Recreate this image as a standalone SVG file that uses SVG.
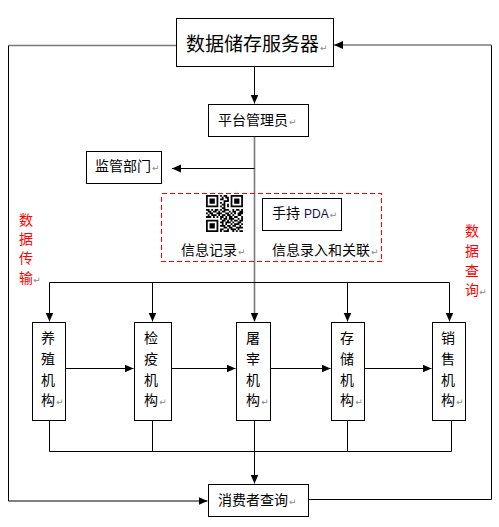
<svg xmlns="http://www.w3.org/2000/svg" width="499" height="527" viewBox="0 0 499 527">
<style>
.box{fill:#fff;stroke:#000;stroke-width:1}
.ln{fill:none;stroke:#000;stroke-width:1}
.gl{fill:none;stroke:#7a7a7a;stroke-width:1.6}
text{font-family:"Noto Sans CJK SC","Noto Sans",sans-serif;fill:#000}
.t14{font-size:14px}
.red{fill:#ff0000;font-size:14px}
.pm{fill:#8a8a8a;font-size:9px;font-family:"DejaVu Sans",sans-serif}
.dash{fill:none;stroke:#ff0000;stroke-width:1;stroke-dasharray:5,3;shape-rendering:crispEdges}
</style>
<defs>
<marker id="ah" markerUnits="userSpaceOnUse" markerWidth="10" markerHeight="9" refX="9" refY="4" orient="auto">
<path d="M0,0 L9,4 L0,8 z" fill="#000"/>
</marker>
</defs>
<g id="connectors">
<path class="gl" d="M176,45.5 H8.5"/>
<path class="ln" d="M8.5,45.5 V501 H207.5" marker-end="url(#ah)"/>
<path class="ln" d="M308,499.5 H491.5 V45"/>
<path class="gl" d="M491.5,45 H334" marker-end="url(#ah)"/>
<path class="ln" d="M254.5,66 V103.5" marker-end="url(#ah)"/>
<path class="gl" d="M254.5,136 V321.5" marker-end="url(#ah)"/>
<path class="ln" d="M254.5,168.5 H172" marker-end="url(#ah)"/>
<path class="ln" d="M49.5,282.5 H449.5"/>
<path class="ln" d="M49.5,282.5 V321.5" marker-end="url(#ah)"/>
<path class="ln" d="M152.5,282.5 V321.5" marker-end="url(#ah)"/>
<path class="ln" d="M347.5,282.5 V321.5" marker-end="url(#ah)"/>
<path class="ln" d="M449.5,282.5 V321.5" marker-end="url(#ah)"/>
<path class="ln" d="M65,368.5 H133.5" marker-end="url(#ah)"/>
<path class="ln" d="M172,368.5 H235.5" marker-end="url(#ah)"/>
<path class="ln" d="M271,368.5 H330.5" marker-end="url(#ah)"/>
<path class="ln" d="M365,368.5 H431.5" marker-end="url(#ah)"/>
<path class="ln" d="M49.5,420 V451.5 H451.5 V420 M152.5,420 V451.5 M347.5,420 V451.5"/>
<path class="ln" d="M254.5,420 V483.5" marker-end="url(#ah)"/>
</g>
<g id="server">
<rect class="box" x="176.5" y="18.5" width="157" height="48"/>
<text x="186" y="51" style="font-size:19px">数据储存服务器<tspan class="pm" dx="1">↵</tspan></text>
</g>
<g id="admin">
<rect class="box" x="208.5" y="104.5" width="100" height="32"/>
<text class="t14" x="218" y="125">平台管理员<tspan class="pm" dx="1">↵</tspan></text>
</g>
<g id="regulator">
<rect class="box" x="86.5" y="151.5" width="75" height="32"/>
<text class="t14" x="95" y="171">监管部门<tspan class="pm" dx="1">↵</tspan></text>
</g>
<g id="record">
<rect class="dash" x="161.5" y="193.5" width="220" height="68"/>
<g transform="translate(206,195) scale(1.76)" fill="#000">
<path d="M0 0h7v7h-7z M1 1v5h5v-5z M2 2h3v3h-3z" fill-rule="evenodd"/>
<path d="M14 0h7v7h-7z M15 1v5h5v-5z M16 2h3v3h-3z" fill-rule="evenodd"/>
<path d="M0 14h7v7h-7z M1 15v5h5v-5z M2 16h3v3h-3z" fill-rule="evenodd"/>
<path d="M8 0h1v1h-1z M10 0h2v1h-2z M9 1h1v1h-1z M11 1h2v1h-2z M8 2h2v1h-2z M12 2h1v1h-1z M10 3h3v1h-3z M8 4h1v1h-1z M10 4h1v1h-1z M9 5h2v1h-2z M12 5h1v1h-1z M8 6h1v1h-1z M10 6h1v1h-1z M12 6h1v1h-1z M9 7h2v1h-2z
M0 8h2v1h-2z M3 8h1v1h-1z M5 8h2v1h-2z M8 8h1v1h-1z M10 8h3v1h-3z M15 8h1v1h-1z M17 8h2v1h-2z M20 8h1v1h-1z
M1 9h2v1h-2z M4 9h2v1h-2z M7 9h1v1h-1z M9 9h2v1h-2z M13 9h1v1h-1z M15 9h2v1h-2z M19 9h2v1h-2z
M0 10h1v1h-1z M2 10h2v1h-2z M6 10h3v1h-3z M11 10h2v1h-2z M14 10h1v1h-1z M16 10h1v1h-1z M18 10h3v1h-3z
M1 11h1v1h-1z M3 11h3v1h-3z M7 11h1v1h-1z M9 11h2v1h-2z M12 11h2v1h-2z M15 11h1v1h-1z M18 11h2v1h-2z
M0 12h3v1h-3z M4 12h1v1h-1z M6 12h1v1h-1z M8 12h2v1h-2z M11 12h1v1h-1z M13 12h2v1h-2z M16 12h2v1h-2z M20 12h1v1h-1z
M8 13h1v1h-1z M10 13h2v1h-2z M13 13h3v1h-3z M18 13h1v1h-1z M20 13h1v1h-1z
M9 14h2v1h-2z M12 14h1v1h-1z M14 14h1v1h-1z M16 14h2v1h-2z M19 14h2v1h-2z
M8 15h2v1h-2z M11 15h3v1h-3z M15 15h1v1h-1z M18 15h2v1h-2z
M9 16h1v1h-1z M11 16h1v1h-1z M14 16h1v1h-1z M16 16h3v1h-3z M20 16h1v1h-1z
M8 17h3v1h-3z M12 17h2v1h-2z M15 17h2v1h-2z M19 17h1v1h-1z
M10 18h2v1h-2z M13 18h2v1h-2z M17 18h4v1h-4z
M8 19h2v1h-2z M12 19h1v1h-1z M14 19h3v1h-3z M18 19h1v1h-1z
M8 20h1v1h-1z M10 20h3v1h-3z M15 20h1v1h-1z M17 20h1v1h-1z M19 20h2v1h-2z"/>
</g>
<text class="t14" x="181" y="255">信息记录<tspan class="pm" dx="1">↵</tspan></text>
<text class="t14" x="272" y="255">信息录入和关联<tspan class="pm" dx="1">↵</tspan></text>
</g>
<g id="pda">
<rect class="box" x="262.5" y="198.5" width="79" height="32"/>
<text class="t14" x="272" y="218">手持<tspan x="304" style="font-size:12px;font-family:'Liberation Sans',sans-serif;fill:#101050">PDA</tspan><tspan class="pm" dx="1">↵</tspan></text>
</g>
<g id="label-transfer">
<text class="red" text-anchor="middle"><tspan x="26" y="225">数</tspan><tspan x="26" y="244">据</tspan><tspan x="26" y="263">传</tspan><tspan x="26" y="283">输</tspan><tspan class="pm" x="37" y="283">↵</tspan></text>
</g>
<g id="label-query">
<text class="red" text-anchor="middle"><tspan x="472" y="236">数</tspan><tspan x="472" y="256">据</tspan><tspan x="472" y="276">查</tspan><tspan x="472" y="295">询</tspan><tspan class="pm" x="483" y="295">↵</tspan></text>
</g>
<g id="farm">
<rect class="box" x="32.5" y="322.5" width="33" height="98"/>
<text class="t14" text-anchor="middle"><tspan x="48" y="343">养</tspan><tspan x="48" y="364">殖</tspan><tspan x="48" y="385">机</tspan><tspan x="48" y="405">构</tspan><tspan class="pm" x="60" y="405">↵</tspan></text>
</g>
<g id="inspect">
<rect class="box" x="134.5" y="322.5" width="37" height="98"/>
<text class="t14" text-anchor="middle"><tspan x="151" y="343">检</tspan><tspan x="151" y="364">疫</tspan><tspan x="151" y="385">机</tspan><tspan x="151" y="405">构</tspan><tspan class="pm" x="163" y="405">↵</tspan></text>
</g>
<g id="slaughter">
<rect class="box" x="236.5" y="322.5" width="34" height="98"/>
<text class="t14" text-anchor="middle"><tspan x="253" y="343">屠</tspan><tspan x="253" y="364">宰</tspan><tspan x="253" y="385">机</tspan><tspan x="253" y="405">构</tspan><tspan class="pm" x="265" y="405">↵</tspan></text>
</g>
<g id="storage">
<rect class="box" x="331.5" y="322.5" width="33" height="98"/>
<text class="t14" text-anchor="middle"><tspan x="347" y="343">存</tspan><tspan x="347" y="364">储</tspan><tspan x="347" y="385">机</tspan><tspan x="347" y="405">构</tspan><tspan class="pm" x="359" y="405">↵</tspan></text>
</g>
<g id="sales">
<rect class="box" x="432.5" y="322.5" width="33" height="98"/>
<text class="t14" text-anchor="middle"><tspan x="448" y="343">销</tspan><tspan x="448" y="364">售</tspan><tspan x="448" y="385">机</tspan><tspan x="448" y="405">构</tspan><tspan class="pm" x="460" y="405">↵</tspan></text>
</g>
<g id="consumer">
<rect class="box" x="208.5" y="484.5" width="100" height="32"/>
<text class="t14" x="218" y="505">消费者查询<tspan class="pm" dx="1">↵</tspan></text>
</g>
</svg>
